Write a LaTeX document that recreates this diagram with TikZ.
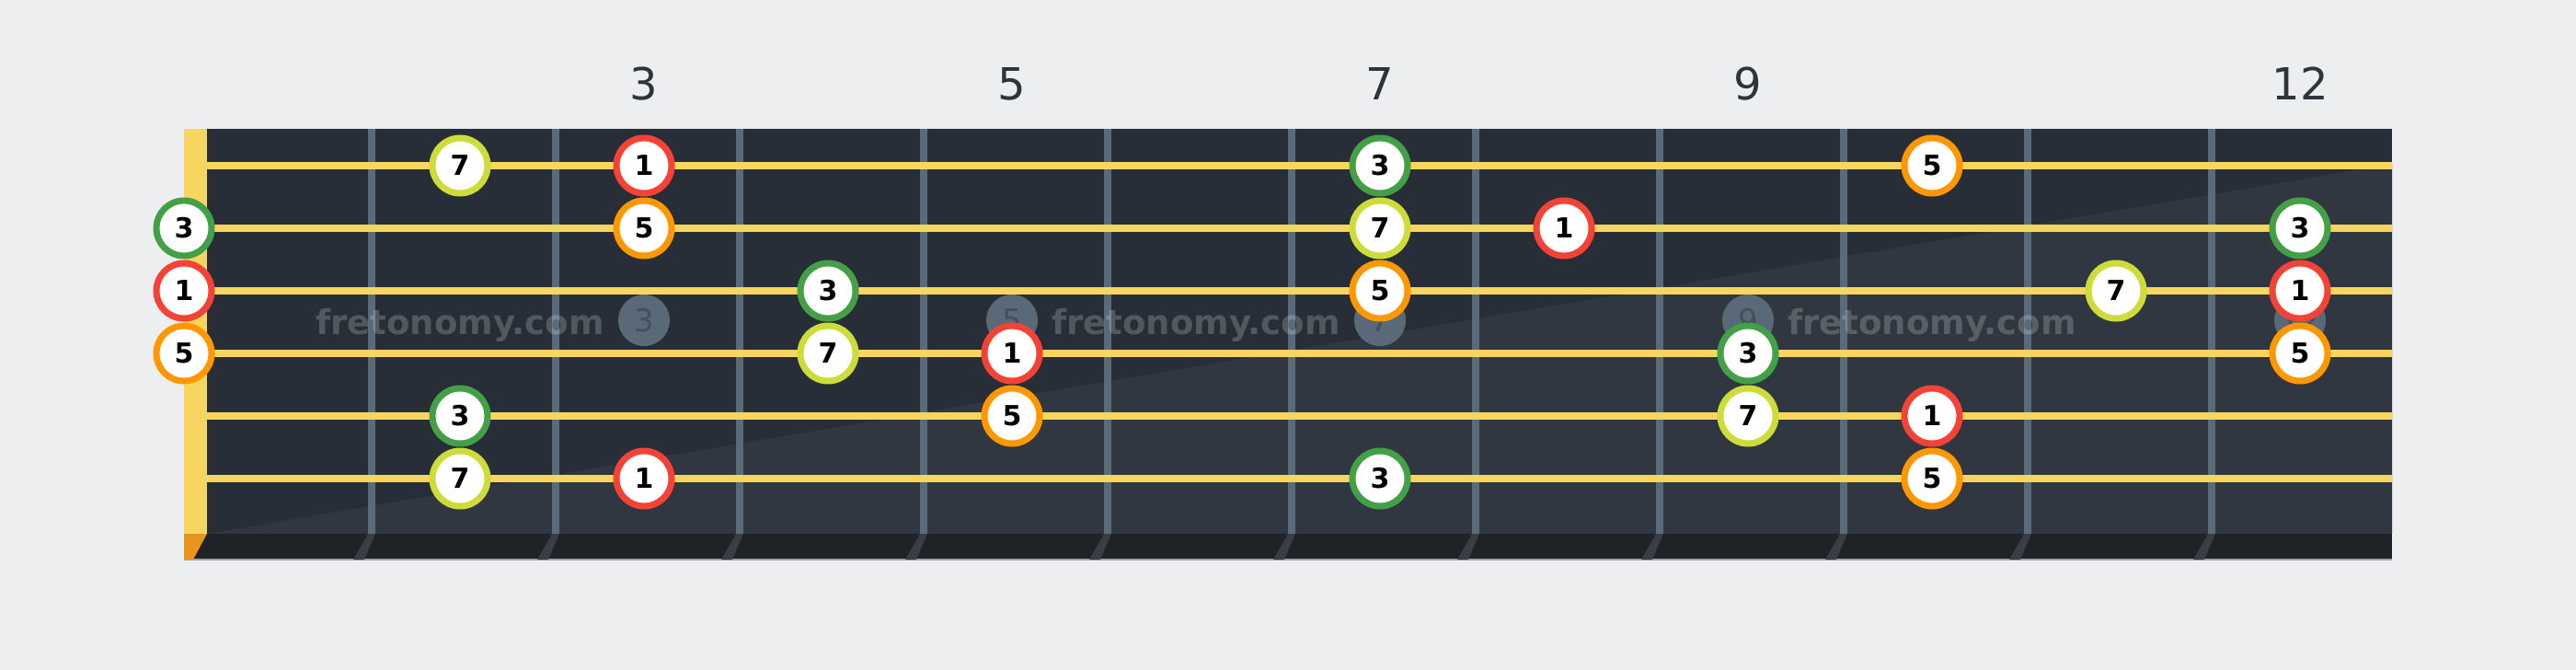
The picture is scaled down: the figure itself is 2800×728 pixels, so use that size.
\documentclass[tikz,border=0pt]{standalone}
\usepackage{fontspec}
\setmainfont{DejaVu Sans}
\definecolor{bgc}{HTML}{EDEEF0}
\definecolor{boardc}{HTML}{282E37}
\definecolor{boardlight}{HTML}{313740}
\definecolor{wirec}{HTML}{5A6A78}
\definecolor{stringc}{HTML}{F7D660}
\definecolor{stripc}{HTML}{1F2328}
\definecolor{shadowc}{HTML}{3A3E44}
\definecolor{edgec}{HTML}{A0A4A8}
\definecolor{nutorange}{HTML}{E8951F}
\definecolor{fretnumc}{HTML}{2E343B}
\definecolor{markerc}{HTML}{5A6978}
\definecolor{markertext}{HTML}{44505B}
\definecolor{ngreen}{HTML}{43A047}
\definecolor{nred}{HTML}{F44336}
\definecolor{norange}{HTML}{FF9800}
\definecolor{nlime}{HTML}{CDDC39}
\begin{document}
\begin{tikzpicture}[x=1pt,y=-1pt,
  note/.style={circle,fill=white,draw=#1,line width=7pt,minimum size=60pt,inner sep=0pt,
    font=\fontsize{30}{30}\selectfont\bfseries,text=black},
  marker/.style={circle,fill=markerc,minimum size=56pt,inner sep=0pt,
    font=\fontsize{34}{34}\selectfont,text=markertext},
  fretnum/.style={font=\fontsize{48}{48}\selectfont,text=fretnumc,inner sep=0pt},
  wm/.style={font=\fontsize{37}{37}\selectfont\bfseries,text=white,text opacity=0.2,anchor=base,inner sep=0pt},
  stringline/.style={draw=stringc,line width=8pt}]
\fill[bgc] (0,0) rectangle (2800,728);
\useasboundingbox (0,0) rectangle (2800,728);
% board
\fill[boardc] (225,140) rectangle (2600,580);
\fill[boardlight] (225,580) -- (2600,178) -- (2600,580) -- cycle;
\fill[stripc] (200,580) rectangle (2600,608);
\draw[edgec,line width=2pt] (200,608) -- (2600,608);
\fill[nutorange] (200,580) -- (225,580) -- (210,608) -- (200,608) -- cycle;
\fill[stringc] (200,140) rectangle (225,580);
% fret wires
\foreach \k in {1,...,11} {
  \fill[wirec] ({200+200*\k},140) rectangle ({208+200*\k},580);
  \fill[shadowc] ({200+200*\k},580) -- ({208+200*\k},580) -- ({196+200*\k},608) -- ({184+200*\k},608) -- cycle;
}
% fret numbers
\node[fretnum] (f3) at (700,91) {3};
\node[fretnum] (f5) at (1100,91) {5};
\node[fretnum] (f7) at (1500,91) {7};
\node[fretnum] (f9) at (1900,91) {9};
\node[fretnum] (f12) at (2500,91) {12};
% inlay markers
\node[marker] (m3) at (700,348) {3};
\node[marker] (m5) at (1100,348) {5};
\node[marker] (m7) at (1500,348) {7};
\node[marker] (m9) at (1900,348) {9};
\node[marker] (m12) at (2500,348) {12};
% watermarks
\node[wm] (w1) at (500,363) {fretonomy.com};
\node[wm] (w2) at (1300,363) {fretonomy.com};
\node[wm] (w3) at (2100,363) {fretonomy.com};
% strings
\foreach \y in {180,248,316,384,452,520} {
  \draw[stringline] (225,\y) -- (2600,\y);
}
% string 1
\node[note=nlime] (s1f2) at (500,180) {7};
\node[note=nred] (s1f3) at (700,180) {1};
\node[note=ngreen] (s1f7) at (1500,180) {3};
\node[note=norange] (s1f10) at (2100,180) {5};
% string 2
\node[note=ngreen] (s2f0) at (200,248) {3};
\node[note=norange] (s2f3) at (700,248) {5};
\node[note=nlime] (s2f7) at (1500,248) {7};
\node[note=nred] (s2f8) at (1700,248) {1};
\node[note=ngreen] (s2f12) at (2500,248) {3};
% string 3
\node[note=nred] (s3f0) at (200,316) {1};
\node[note=ngreen] (s3f4) at (900,316) {3};
\node[note=norange] (s3f7) at (1500,316) {5};
\node[note=nlime] (s3f11) at (2300,316) {7};
\node[note=nred] (s3f12) at (2500,316) {1};
% string 4
\node[note=norange] (s4f0) at (200,384) {5};
\node[note=nlime] (s4f4) at (900,384) {7};
\node[note=nred] (s4f5) at (1100,384) {1};
\node[note=ngreen] (s4f9) at (1900,384) {3};
\node[note=norange] (s4f12) at (2500,384) {5};
% string 5
\node[note=ngreen] (s5f2) at (500,452) {3};
\node[note=norange] (s5f5) at (1100,452) {5};
\node[note=nlime] (s5f9) at (1900,452) {7};
\node[note=nred] (s5f10) at (2100,452) {1};
% string 6
\node[note=nlime] (s6f2) at (500,520) {7};
\node[note=nred] (s6f3) at (700,520) {1};
\node[note=ngreen] (s6f7) at (1500,520) {3};
\node[note=norange] (s6f10) at (2100,520) {5};
\end{tikzpicture}
\end{document}
